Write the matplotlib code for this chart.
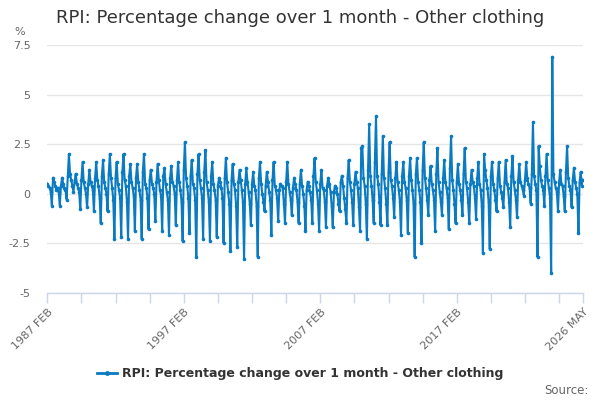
import numpy as np
import pandas as pd
import matplotlib
matplotlib.use("Agg")
import matplotlib.pyplot as plt
from matplotlib.lines import Line2D

title = "RPI: Percentage change over 1 month - Other clothing"
series_name = "RPI: Percentage change over 1 month - Other clothing"

# Monthly values, % change over 1 month
y1987 = [0.5, 0.4, 0.3, 0.1, -0.6, 0.8, 0.6, 0.4, 0.2, 0.3, 0.1]
y1988 = [-0.6, 0.4, 0.8, 0.5, 0.3, 0.2, -0.3, 0.9, 2.0, 1.0, 0.7, 0.4]
y1989 = [0.1, 0.6, 1.0, 0.5, 0.3, 0.1, -0.8, 0.7, 1.6, 0.6, 0.3, 0.0]
y1990 = [-0.7, 0.5, 1.2, 0.6, 0.4, 0.2, -0.9, 0.8, 1.6, 0.7, 0.4, -0.2]
y1991 = [-1.5, 0.9, 1.7, 0.6, 0.3, 0.0, -0.9, 1.0, 2.0, 0.8, 0.3, -0.3]
y1992 = [-2.3, 0.8, 1.6, 0.5, 0.2, -0.2, -2.2, 1.1, 2.0, 0.7, 0.4, -0.4]
y1993 = [-2.3, 0.9, 1.5, 0.6, 0.3, -0.1, -1.9, 0.8, 1.5, 0.6, 0.2, -0.3]
y1994 = [-2.3, 1.1, 2.0, 0.5, 0.3, -0.2, -1.8, 0.7, 1.2, 0.5, 0.3, 0.0]
y1995 = [-1.4, 0.6, 1.5, 0.7, 0.2, -0.1, -1.9, 0.9, 1.3, 0.5, 0.1, -0.3]
y1996 = [-2.1, 0.8, 1.4, 0.6, 0.4, 0.0, -1.6, 0.7, 1.6, 0.6, 0.2, -0.4]
y1997 = [-2.4, 1.2, 2.6, 0.8, 0.4, -0.2, -2.0, 0.9, 1.7, 0.5, 0.3, -0.3]
y1998 = [-3.2, 1.0, 2.0, 0.7, 0.3, -0.2, -2.3, 1.1, 2.2, 0.6, 0.2, -0.4]
y1999 = [-2.4, 0.9, 1.6, 0.5, 0.2, -0.3, -2.2, 0.4, 0.8, 0.6, 0.3, -0.2]
y2000 = [-2.5, 0.8, 1.8, 0.6, 0.1, -0.5, -2.9, 0.7, 1.5, 0.5, 0.2, -0.6]
y2001 = [-2.7, 0.6, 1.2, 0.7, 0.2, -0.4, -3.3, 0.5, 1.3, 0.6, 0.1, -0.5]
y2002 = [-1.6, 0.5, 1.1, 0.4, 0.2, -0.6, -3.2, 0.8, 1.6, 0.5, 0.0, -0.4]
y2003 = [-0.9, 0.4, 1.1, 0.6, 0.1, -0.3, -2.1, 0.7, 1.6, 0.4, 0.2, -0.2]
y2004 = [-1.4, 0.2, 0.5, 0.4, 0.3, -0.5, -1.5, 0.6, 1.6, 0.5, 0.1, -0.3]
y2005 = [-1.1, 0.3, 0.8, 0.5, 0.2, -0.4, -1.5, 0.5, 1.2, 0.4, 0.0, -0.6]
y2006 = [-1.9, 0.2, 0.6, 0.4, 0.1, -0.3, -1.5, 0.9, 1.8, 0.6, 0.2, -0.5]
y2007 = [-1.9, 0.5, 1.2, 0.3, 0.2, -0.4, -1.7, 0.4, 0.8, 0.5, 0.1, -0.6]
y2008 = [-1.7, 0.1, 0.4, 0.3, 0.0, -0.5, -0.9, 0.6, 0.9, 0.4, -0.2, -0.8]
y2009 = [-1.5, 0.8, 1.7, 0.6, 0.2, -0.4, -1.6, 0.5, 1.1, 0.6, 0.3, -0.7]
y2010 = [-1.9, 2.3, 2.4, 0.8, 0.4, -0.5, -2.3, 1.2, 3.5, 0.9, 0.4, -0.3]
y2011 = [-1.5, 1.6, 3.9, 0.9, 0.5, -0.4, -1.6, 1.0, 2.9, 0.8, 0.3, -0.5]
y2012 = [-1.6, 1.1, 2.6, 0.7, 0.4, -0.2, -1.2, 0.8, 1.6, 0.6, 0.2, -0.4]
y2013 = [-2.1, 0.9, 1.6, 0.6, 0.3, -0.3, -2.0, 0.9, 1.8, 0.7, 0.2, -0.5]
y2014 = [-3.2, 1.0, 1.8, 0.6, 0.2, -0.4, -2.5, 1.2, 2.6, 0.8, 0.3, -0.3]
y2015 = [-1.1, 0.7, 1.4, 0.5, 0.2, -0.3, -1.9, 1.0, 2.3, 0.6, 0.1, -0.4]
y2016 = [-1.1, 0.8, 1.7, 0.6, 0.3, -0.2, -1.8, 1.3, 2.9, 0.7, 0.2, -0.5]
y2017 = [-1.5, 0.6, 1.5, 0.5, 0.2, -0.3, -1.1, 1.0, 2.3, 0.6, 0.3, -0.4]
y2018 = [-1.5, 0.5, 1.2, 0.6, 0.4, -0.2, -1.3, 0.8, 1.6, 0.5, 0.2, -0.6]
y2019 = [-3.0, 2.0, 1.2, 0.7, 0.3, -0.4, -2.8, 0.9, 1.6, 0.5, 0.2, -0.3]
y2020 = [-0.9, 0.8, 1.6, 0.4, 0.1, -0.2, -0.7, 0.6, 1.7, 0.5, 0.3, -0.4]
y2021 = [-1.7, 0.9, 1.9, 0.6, 0.2, -0.3, -1.2, 0.7, 1.5, 0.6, 0.4, 0.2]
y2022 = [-0.1, 0.7, 1.6, 0.8, 0.5, 0.3, -0.5, 1.0, 3.6, 0.9, 0.5, 0.2]
y2023 = [-3.2, 2.4, 1.4, 0.7, 0.4, 0.2, -0.6, 0.9, 2.0, 0.7, 0.3, -0.2]
y2024 = [-4.0, 6.9, 1.0, 0.6, 0.3, 0.1, -0.9, 0.6, 1.2, 0.5, 0.4, -0.1]
y2025 = [-0.9, 1.1, 2.4, 0.8, 0.4, 0.2, -0.7, 0.7, 1.3, 0.6, 0.3, 0.0]
y2026 = [-2.0, 0.6, 1.1, 0.4, 0.7]

values = (y1987 + y1988 + y1989 + y1990 + y1991 + y1992 + y1993 + y1994 + y1995
          + y1996 + y1997 + y1998 + y1999 + y2000 + y2001 + y2002 + y2003 + y2004
          + y2005 + y2006 + y2007 + y2008 + y2009 + y2010 + y2011 + y2012 + y2013
          + y2014 + y2015 + y2016 + y2017 + y2018 + y2019 + y2020 + y2021 + y2022
          + y2023 + y2024 + y2025 + y2026)

months = pd.period_range("1987-02", "2026-05", freq="M")
month_labels = [f"{p.year} {p.strftime('%b').upper()}" for p in months]
labelled_months = ["1987 FEB", "1997 FEB", "2007 FEB", "2017 FEB", "2026 MAY"]

y_ticks = [-5, -2.5, 0, 2.5, 5, 7.5]
y_tick_labels = ["-5", "-2.5", "0", "2.5", "5", "7.5"]

x = np.arange(len(values))
n = len(values)

fig = plt.figure(figsize=(6, 4), dpi=100)
ax = fig.add_axes([47.3 / 600, 1 - 292.7 / 400, (583 - 47.3) / 600, (292.7 - 45) / 400])

color = "#0a7bc2"
ax.plot(x, values, color=color, lw=1.5, marker="o", markersize=2.6,
        markeredgewidth=0, zorder=3)

ax.set_xlim(0, n - 1)
ax.set_ylim(-5, 7.5)
ax.set_yticks(y_ticks)
ax.set_yticklabels(y_tick_labels)
ax.grid(axis="y", color="#e6e6e6", lw=1)
ax.set_axisbelow(True)

tick_pos = list(range(0, n, 30)) + [n - 1]
tick_lab = []
for p in tick_pos:
    lab = month_labels[p]
    tick_lab.append(lab if lab in labelled_months else "")
ax.set_xticks(tick_pos)
ax.set_xticklabels(tick_lab, rotation=45, ha="right", va="top",
                   rotation_mode="anchor")

for s in ["top", "right", "left"]:
    ax.spines[s].set_visible(False)
ax.spines["bottom"].set_color("#ccd6eb")
ax.spines["bottom"].set_linewidth(1)

ax.tick_params(axis="x", length=7, width=1, color="#ccd6eb",
               labelsize=8, labelcolor="#666666", pad=3)
ax.tick_params(axis="y", length=0, labelsize=8, labelcolor="#666666", pad=12)

fig.text(0.5, 1 - 18 / 400, title, ha="center", va="center",
         fontsize=13, color="#333333")
fig.text(14 / 600, 1 - 32 / 400, "%", ha="left", va="center",
         fontsize=8, color="#666666")

handle = Line2D([], [], color=color, lw=2, marker="o", markersize=2.5)
fig.legend([handle], [series_name], loc="center",
           bbox_to_anchor=(0.5, 1 - 374 / 400), frameon=False,
           prop={"weight": "bold", "size": 9}, handlelength=1.6,
           handletextpad=0.4, labelcolor="#333333")

fig.text(589 / 600, 1 - 390 / 400, "Source:", ha="right", va="center",
         fontsize=8.5, color="#666666")

fig.savefig("out.png", dpi=100)
